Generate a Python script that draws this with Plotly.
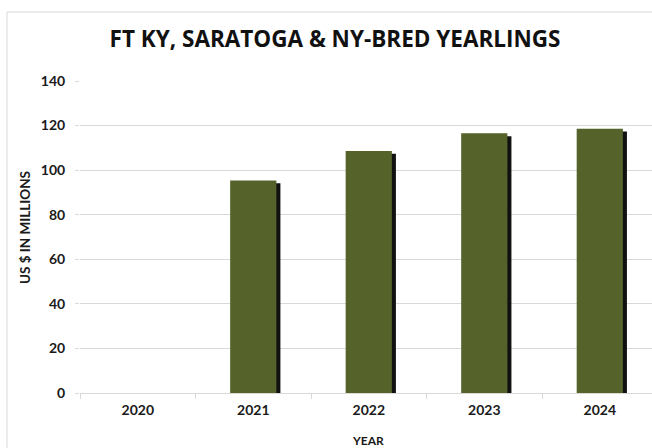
import plotly.graph_objects as go

years = ["2020", "2021", "2022", "2023", "2024"]
values = [0, 95.4, 108.6, 116.5, 118.6]
y_ticks = [0, 20, 40, 60, 80, 100, 120, 140]

title_text = "FT KY, SARATOGA & NY-BRED YEARLINGS"
y_title = "US $ IN MILLIONS"
x_title = "YEAR"

bar_color = "#55622A"
shadow_color = "#111111"
grid_color = "#D9D9D9"
font_family = "Lato, 'Open Sans', sans-serif"

fig = go.Figure()
# shadow
fig.add_trace(go.Bar(
    x=years, y=[v - 1.3 if v > 0 else 0 for v in values], base=0,
    width=0.40, offset=-0.20 + 0.035,
    marker=dict(color=shadow_color, line=dict(width=0)),
    hoverinfo="skip", showlegend=False,
))
fig.add_trace(go.Bar(
    x=years, y=values,
    width=0.40, offset=-0.20,
    marker=dict(color=bar_color, line=dict(width=0)),
    showlegend=False,
))

tick_font = dict(size=14, color="#1a1a1a", family=font_family, weight=700)

fig.update_layout(
    width=652, height=448,
    margin=dict(l=80, r=0, t=81, b=55),
    paper_bgcolor="white", plot_bgcolor="white",
    barmode="overlay",
    font=dict(family=font_family, color="#1a1a1a"),
    title=dict(text=title_text, x=335 / 652, xanchor="center",
               y=1 - 39 / 448, yanchor="middle",
               font=dict(size=22.5, color="#111111", family="'Open Sans', sans-serif", weight=700)),
    xaxis=dict(
        type="category", range=[-0.5, 4.452],
        showgrid=False, showline=False, zeroline=False,
        ticks="outside", tickson="boundaries", ticklen=5, tickcolor=grid_color,
        tickfont=tick_font, ticklabelstandoff=7,
    ),
    yaxis=dict(
        range=[0, 140], tickvals=y_ticks,
        showgrid=True, gridcolor=grid_color, gridwidth=1,
        zeroline=True, zerolinecolor=grid_color, zerolinewidth=1,
        showline=False,
        ticks="outside", ticklen=4, tickcolor=grid_color,
        tickfont=tick_font, ticklabelstandoff=7,
    ),
    shapes=[dict(type="path", xref="paper", yref="paper",
                 path="M %f,%f L %f,%f L %f,%f" % ((7 - 80) / 572, -0.4,
                                                   (7 - 80) / 572, (393 - 12) / 312,
                                                   1.5, (393 - 12) / 312),
                 line=dict(color="#D9D9D9", width=1), layer="below")],
    annotations=[
        dict(text=y_title, xref="paper", yref="paper",
             x=(25 - 80) / 572, y=(393 - 228) / 312, textangle=-90,
             showarrow=False, xanchor="center", yanchor="middle",
             font=dict(size=13.5, color="#1a1a1a", weight=700)),
        dict(text=x_title, xref="paper", yref="paper",
             x=(368 - 80) / 572, y=(393 - 440) / 312,
             showarrow=False, xanchor="center", yanchor="middle",
             font=dict(size=12, color="#1a1a1a", weight=700)),
    ],
)

fig.write_html("out.html", config={"displayModeBar": False},
               post_script="document.documentElement.style.overflow='hidden';"
                           "document.body.style.margin='0';document.body.style.overflow='hidden';")
